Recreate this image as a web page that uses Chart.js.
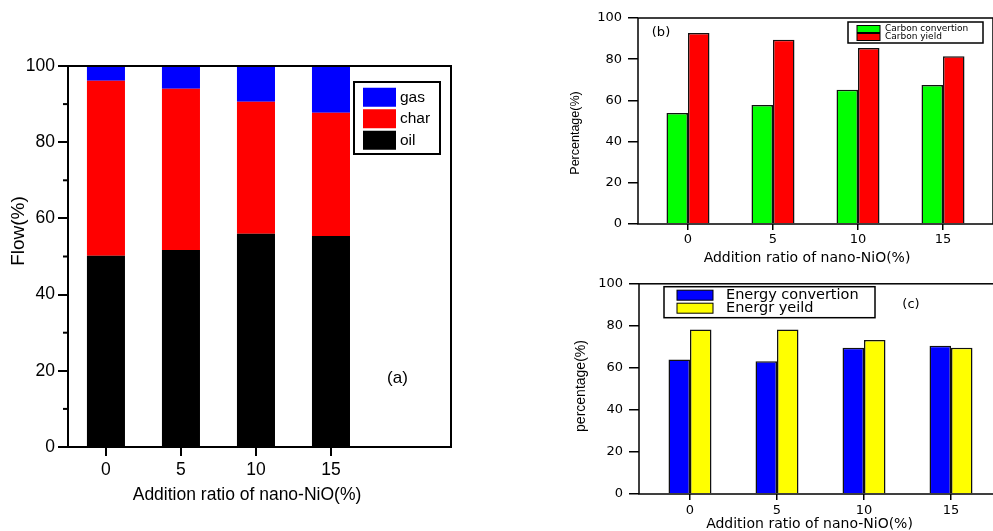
<!DOCTYPE html>
<html>
<head>
<meta charset="utf-8">
<script src="https://cdn.jsdelivr.net/npm/chart.js@4"></script>
<style>
  html, body { margin: 0; padding: 0; background: #fff; }
  body { width: 993px; height: 531px; position: relative; overflow: hidden; }
  canvas { position: absolute; }
  #chart-a { left: 0; top: 0; }
  #chart-b { left: 560px; top: 0; }
  #chart-c { left: 560px; top: 270px; }
</style>
</head>
<body>
<canvas id="chart-a" width="470" height="531"></canvas>
<canvas id="chart-b" width="433" height="270"></canvas>
<canvas id="chart-c" width="442" height="270"></canvas>
<script>
// Data
const ratios = [0, 5, 10, 15];               // addition ratio of nano-NiO (%)
const oilFlow = [50.2, 51.7, 56.0, 55.4];
const charFlow = [45.9, 42.3, 34.6, 32.3];
const gasFlow = [3.9, 6.0, 9.4, 12.3];
const carbonConversion = [53.9, 57.8, 65.2, 67.5];
const carbonYield = [92.7, 89.5, 85.4, 81.4];
const energyConversion = [64.0, 63.1, 69.6, 70.5];
const energyYield = [78.3, 78.3, 73.3, 69.6];
const percentTicks = [0, 20, 40, 60, 80, 100];
const percentMinorTicks = [10, 30, 50, 70, 90];

const ARIAL = "'Liberation Sans', Arial, sans-serif";
const WIDE = "'DejaVu Sans', Verdana, sans-serif";
const NARROW = "'Liberation Sans Narrow', 'Arial Narrow', 'Liberation Sans', sans-serif";

Chart.defaults.font.family = ARIAL;
Chart.defaults.color = '#000';

function points(values) {
  return ratios.map((r, i) => ({ x: r, y: values[i] }));
}

// Box round the plot area
const frameBox = {
  id: 'frameBox',
  afterDatasetsDraw(chart, args, opts) {
    const { ctx, chartArea: a } = chart;
    ctx.save();
    ctx.strokeStyle = '#000';
    ctx.lineWidth = opts.lineWidth || 1;
    ctx.strokeRect(a.left, a.top, a.right - a.left, a.bottom - a.top);
    // short minor ticks on the y axis
    (opts.minor || []).forEach(v => {
      const y = chart.scales.y.getPixelForValue(v);
      ctx.beginPath();
      ctx.moveTo(a.left - opts.minorLength, y);
      ctx.lineTo(a.left, y);
      ctx.stroke();
    });
    ctx.restore();
  }
};

// Legend in a box inside the plot
const boxLegend = {
  id: 'boxLegend',
  afterDraw(chart, args, o) {
    const ctx = chart.ctx;
    const sets = o.reverse ? chart.data.datasets.slice().reverse() : chart.data.datasets;
    ctx.save();
    ctx.fillStyle = '#fff';
    ctx.fillRect(o.x, o.y, o.w, o.h);
    ctx.strokeStyle = '#000';
    ctx.lineWidth = o.lineWidth;
    ctx.strokeRect(o.x, o.y, o.w, o.h);
    ctx.font = o.font;
    ctx.textBaseline = 'middle';
    sets.forEach((ds, i) => {
      const cy = o.y + o.padTop + o.rowH * i + o.rowH / 2;
      ctx.fillStyle = ds.backgroundColor;
      ctx.fillRect(o.swX, cy - o.swH / 2, o.swW, o.swH);
      if (o.swBorder) {
        ctx.lineWidth = o.swBorder;
        ctx.strokeRect(o.swX, cy - o.swH / 2, o.swW, o.swH);
      }
      ctx.fillStyle = '#000';
      ctx.fillText(ds.label, o.textX, cy);
    });
    ctx.restore();
  }
};

// Axis titles and panel letters
const freeText = {
  id: 'freeText',
  afterDraw(chart, args, opts) {
    const ctx = chart.ctx;
    (opts.items || []).forEach(t => {
      ctx.save();
      ctx.font = t.font;
      ctx.fillStyle = '#000';
      ctx.textAlign = 'center';
      ctx.textBaseline = 'middle';
      ctx.translate(t.x, t.y);
      if (t.rotate) ctx.rotate(t.rotate);
      ctx.fillText(t.text, 0, 0);
      ctx.restore();
    });
  }
};

function xScale(o) {
  return {
    type: 'linear',
    min: o.min,
    max: o.max,
    offset: false,
    stacked: !!o.stacked,
    afterBuildTicks: s => { s.ticks = ratios.map(v => ({ value: v })); },
    afterFit: s => { s.height = o.height; },
    grid: { offset: false, drawOnChartArea: false, tickLength: o.tickLength, color: '#000', lineWidth: o.tickWidth },
    border: { display: false },
    ticks: { font: o.font, color: '#000', padding: o.padding, maxRotation: 0, autoSkip: false },
  };
}

function yScale(o) {
  return {
    min: 0,
    max: 100,
    stacked: !!o.stacked,
    afterBuildTicks: s => { s.ticks = percentTicks.map(v => ({ value: v })); },
    afterFit: s => { s.width = o.width; },
    grid: { drawOnChartArea: false, tickLength: o.tickLength, color: '#000', lineWidth: o.tickWidth },
    border: { display: false },
    ticks: { font: o.font, color: '#000', padding: o.padding },
  };
}

const common = {
  responsive: false,
  animation: false,
  events: [],
};

// (a) stacked product distribution
new Chart(document.getElementById('chart-a'), {
  type: 'bar',
  data: {
    datasets: [
      { label: 'oil', data: points(oilFlow), backgroundColor: '#000000' },
      { label: 'char', data: points(charFlow), backgroundColor: '#ff0000' },
      { label: 'gas', data: points(gasFlow), backgroundColor: '#0000ff' },
    ],
  },
  options: {
    ...common,
    layout: { padding: { top: 66, right: 19, bottom: 0, left: 0 } },
    datasets: { bar: { barPercentage: 0.507, categoryPercentage: 1, borderWidth: 0 } },
    scales: {
      x: xScale({ min: -2.53, max: 23, stacked: true, height: 84, tickLength: 9, tickWidth: 2,
        font: { size: 17.5, family: ARIAL }, padding: 4 }),
      y: yScale({ stacked: true, width: 68, tickLength: 10, tickWidth: 2,
        font: { size: 17.5, family: ARIAL }, padding: 3 }),
    },
    plugins: {
      legend: { display: false },
      tooltip: { enabled: false },
      frameBox: { lineWidth: 2, minor: percentMinorTicks, minorLength: 5 },
      boxLegend: { reverse: true, x: 354, y: 82, w: 86, h: 72, lineWidth: 2, padTop: 4.5, rowH: 21.5,
        swX: 363, swW: 33, swH: 19, textX: 400, font: '15.5px ' + ARIAL },
      freeText: { items: [
        { text: 'Addition ratio of nano-NiO(%)', x: 247, y: 495, font: '17.5px ' + ARIAL },
        { text: 'Flow(%)', x: 18.5, y: 231, rotate: -Math.PI / 2, font: '19px ' + ARIAL },
        { text: '(a)', x: 397.5, y: 378, font: '17px ' + ARIAL },
      ] },
    },
  },
  plugins: [frameBox, boxLegend, freeText],
});

// (b) carbon conversion / yield
new Chart(document.getElementById('chart-b'), {
  type: 'bar',
  data: {
    datasets: [
      { label: 'Carbon convertion', data: points(carbonConversion), backgroundColor: '#00ff00' },
      { label: 'Carbon yield', data: points(carbonYield), backgroundColor: '#ff0000' },
    ],
  },
  options: {
    ...common,
    layout: { padding: { top: 18, right: 0, bottom: 0, left: 0 } },
    datasets: { bar: { barPercentage: 1, categoryPercentage: 0.506, borderWidth: 1.5, borderColor: '#111' } },
    scales: {
      x: xScale({ min: -2.94, max: 17.94, height: 46, tickLength: 6, tickWidth: 1.5,
        font: { size: 13, family: WIDE }, padding: 2 }),
      y: yScale({ width: 78, tickLength: 10, tickWidth: 1.5,
        font: { size: 13, family: WIDE }, padding: 6 }),
    },
    plugins: {
      legend: { display: false },
      tooltip: { enabled: false },
      frameBox: { lineWidth: 1.5 },
      boxLegend: { x: 288, y: 22, w: 135, h: 21, lineWidth: 1.5, padTop: 3, rowH: 8,
        swX: 297, swW: 23, swH: 7, swBorder: 1, textX: 325, font: '9px ' + WIDE },
      freeText: { items: [
        { text: 'Addition ratio of nano-NiO(%)', x: 247, y: 258, font: '14px ' + WIDE },
        { text: 'Percentage(%)', x: 16, y: 133, rotate: -Math.PI / 2, font: '12.5px ' + NARROW },
        { text: '(b)', x: 101, y: 33, font: '13px ' + WIDE },
      ] },
    },
  },
  plugins: [frameBox, boxLegend, freeText],
});

// (c) energy conversion / yield
new Chart(document.getElementById('chart-c'), {
  type: 'bar',
  data: {
    datasets: [
      { label: 'Energy convertion', data: points(energyConversion), backgroundColor: '#0000ff' },
      { label: 'Energr yeild', data: points(energyYield), backgroundColor: '#ffff00' },
    ],
  },
  options: {
    ...common,
    layout: { padding: { top: 10, right: 0, bottom: 0, left: 0 } },
    datasets: { bar: { barPercentage: 1, categoryPercentage: 0.494, borderWidth: 1.5, borderColor: '#111' } },
    scales: {
      x: xScale({ min: -2.93, max: 17.93, height: 46, tickLength: 6, tickWidth: 1.5,
        font: { size: 13, family: WIDE }, padding: 3 }),
      y: yScale({ width: 79, tickLength: 10, tickWidth: 1.5,
        font: { size: 13, family: WIDE }, padding: 6 }),
    },
    plugins: {
      legend: { display: false },
      tooltip: { enabled: false },
      frameBox: { lineWidth: 1.5 },
      boxLegend: { x: 104, y: 16.7, w: 211, h: 31, lineWidth: 1.5, padTop: 2, rowH: 13,
        swX: 117, swW: 36, swH: 10, swBorder: 1, textX: 166, font: '14.5px ' + WIDE },
      freeText: { items: [
        { text: 'Addition ratio of nano-NiO(%)', x: 249.5, y: 254, font: '14px ' + WIDE },
        { text: 'percentage(%)', x: 21, y: 116, rotate: -Math.PI / 2, font: '14px ' + NARROW },
        { text: '(c)', x: 351, y: 35, font: '13px ' + WIDE },
      ] },
    },
  },
  plugins: [frameBox, boxLegend, freeText],
});
</script>
</body>
</html>
